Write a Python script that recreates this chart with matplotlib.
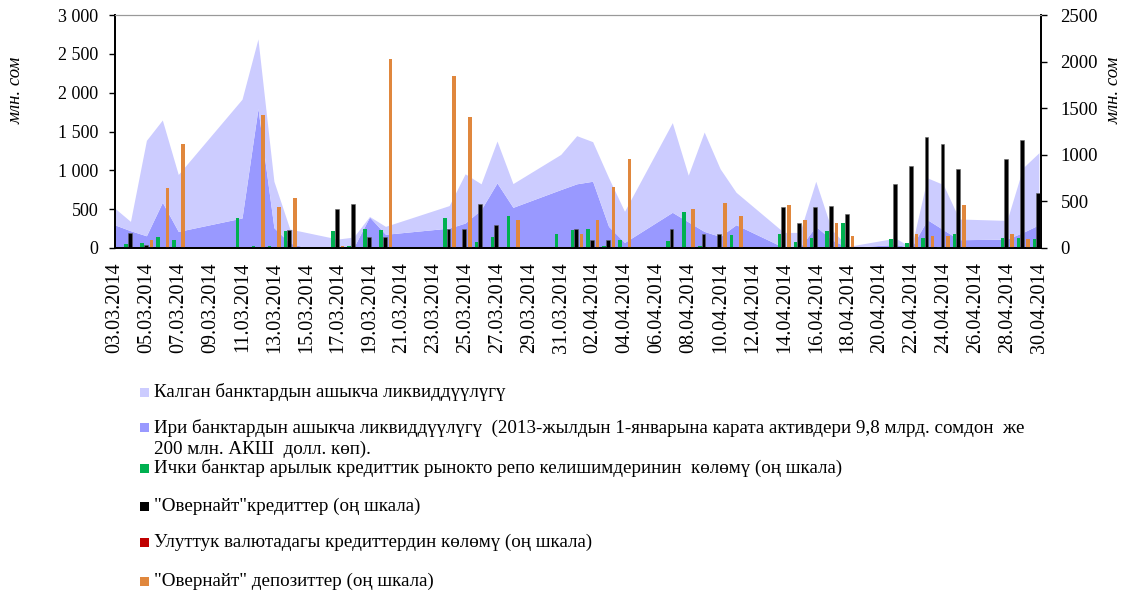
import numpy as np
import pandas as pd
import matplotlib
matplotlib.use("Agg")
import matplotlib.pyplot as plt
import matplotlib.dates as mdates
from matplotlib.patches import Rectangle

plt.rcParams['font.family'] = ['Liberation Serif', 'DejaVu Serif']

# dates with data (dd.mm.yyyy)
dates = ["03.03.2014", "04.03.2014", "05.03.2014", "06.03.2014", "07.03.2014",
         "11.03.2014", "12.03.2014", "13.03.2014", "14.03.2014", "15.03.2014",
         "17.03.2014", "18.03.2014", "19.03.2014", "20.03.2014", "24.03.2014",
         "25.03.2014", "26.03.2014", "27.03.2014", "28.03.2014", "31.03.2014",
         "01.04.2014", "02.04.2014", "03.04.2014", "04.04.2014", "07.04.2014",
         "08.04.2014", "09.04.2014", "10.04.2014", "11.04.2014", "14.04.2014",
         "15.04.2014", "16.04.2014", "17.04.2014", "18.04.2014", "21.04.2014",
         "22.04.2014", "23.04.2014", "24.04.2014", "25.04.2014", "28.04.2014",
         "29.04.2014", "30.04.2014"]

# left scale, mln som
big_banks = [293, 216, 151, 582, 207, 380, 1789, 255, 57, 0,
             0, 0, 393, 170, 250, 315, 487, 832, 517, 746,
             820, 853, 272, 65, 453, 330, 207, 142, 293, 0,
             0, 272, 100, 0, 40, 0, 358, 229, 100, 108,
             194, 293]
other_banks = [216, 120, 1229, 1060, 733, 1530, 897, 598, 181, 195,
               109, 134, 7, 102, 290, 634, 333, 539, 306, 453,
               620, 510, 628, 401, 1155, 601, 1280, 872, 418, 194,
               194, 581, 129, 13, 81, 0, 539, 582, 267, 241,
               832, 927]

# right scale, mln som
repo = [0, 47, 58, 119, 90, 327, 20, 20, 180, 0,
        180, 18, 209, 194, 327, 0, 65, 119, 342, 148,
        191, 209, 25, 90, 77, 388, 25, 0, 140, 155,
        65, 110, 183, 270, 101, 56, 110, 15, 155, 106,
        106, 95]
overnight_credit = [0, 166, 29, 0, 0, 0, 0, 0, 198, 0,
                    417, 467, 119, 119, 209, 209, 467, 252, 0, 0,
                    209, 90, 90, 0, 209, 0, 148, 148, 0, 435,
                    273, 435, 449, 360, 686, 880, 1196, 1117, 851, 952,
                    1160, 586]
national_credit = [0] * len(dates)
overnight_deposit = [0, 0, 90, 640, 1117, 0, 1430, 435, 532, 0,
                     18, 0, 0, 2030, 1850, 1405, 0, 0, 298, 0,
                     148, 298, 651, 952, 0, 414, 15, 478, 342, 460,
                     298, 0, 270, 126, 0, 148, 126, 126, 460, 148,
                     95, 0]

labels = [
    "Калган банктардын ашыкча ликвиддүүлүгү",
    "Ири банктардын ашыкча ликвиддүүлүгү  (2013-жылдын 1-январына карата активдери 9,8 млрд. сомдон  же\n200 млн. АКШ  долл. көп).",
    "Ички банктар арылык кредиттик рынокто репо келишимдеринин  көлөмү (оң шкала)",
    "\"Овернайт\"кредиттер (оң шкала)",
    "Улуттук валютадагы кредиттердин көлөмү (оң шкала)",
    "\"Овернайт\" депозиттер (оң шкала)",
]
colors = ["#CCCCFF", "#9999FF", "#00B050", "#000000", "#C00000", "#E0873D"]

x = mdates.date2num(pd.to_datetime(dates, format="%d.%m.%Y"))

fig = plt.figure(figsize=(11.3, 5.94), dpi=100)
ax = fig.add_axes([0.1018, 0.5825, 0.8194, 0.3922])
ax2 = ax.twinx()

ax.stackplot(x, big_banks, other_banks, colors=[colors[1], colors[0]], linewidth=0)

w = 0.22
ax2.bar(x - 0.31, repo, width=w, color=colors[2], linewidth=0)
ax2.bar(x - 0.08, overnight_credit, width=0.24, color=colors[3], edgecolor="#666666", linewidth=0.4)
ax2.bar(x + 0.10, national_credit, width=w, color=colors[4], linewidth=0)
ax2.bar(x + 0.28, overnight_deposit, width=w, color=colors[5], linewidth=0)

ax.set_xlim(x[0], x[-1] + 0.1)
ax.set_ylim(0, 3000)
ax2.set_ylim(0, 2500)

ax.set_yticks(np.arange(0, 3001, 500))
ax.set_yticklabels([f"{v:,}".replace(",", " ") for v in range(0, 3001, 500)])
ax2.set_yticks(np.arange(0, 2501, 500))

ticks = pd.date_range("2014-03-03", "2014-04-30", freq="2D")
ax.set_xticks(mdates.date2num(ticks))
ax.set_xticklabels([t.strftime("%d.%m.%Y") for t in ticks], rotation=90)

ax.tick_params(axis="y", labelsize=13, length=4, width=1, pad=8)
ax2.yaxis.set_tick_params(labelsize=13.5, length=4, width=1, pad=10)
ax.tick_params(axis="x", labelsize=14.5, length=0, pad=10)

for a in (ax, ax2):
    a.spines["top"].set_color("#999999")
    a.spines["left"].set_linewidth(1.3)
    a.spines["right"].set_linewidth(1.3)
    a.spines["bottom"].set_linewidth(1.3)

fig.text(0.014, 1 - 90 / 594, "млн. сом", rotation=90, style="italic",
         ha="center", va="center", fontsize=13.5)
fig.text(0.986, 1 - 90 / 594, "млн. сом", rotation=90, style="italic",
         ha="center", va="center", fontsize=13.5)

# legend drawn by hand, one entry per row
rows_y = [392, 427.5, 468, 506.5, 542.5, 581]
for lab, col, ry in zip(labels, colors, rows_y):
    fig.add_artist(Rectangle((140 / 1130, 1 - (ry + 4.5) / 594), 9 / 1130, 9 / 594,
                             transform=fig.transFigure, color=col, lw=0))
    for i, line in enumerate(lab.split("\n")):
        fig.text(154 / 1130, 1 - (ry + 22 * i) / 594, line, fontsize=13.7,
                 ha="left", va="center")

fig.savefig("out.png", dpi=100)
